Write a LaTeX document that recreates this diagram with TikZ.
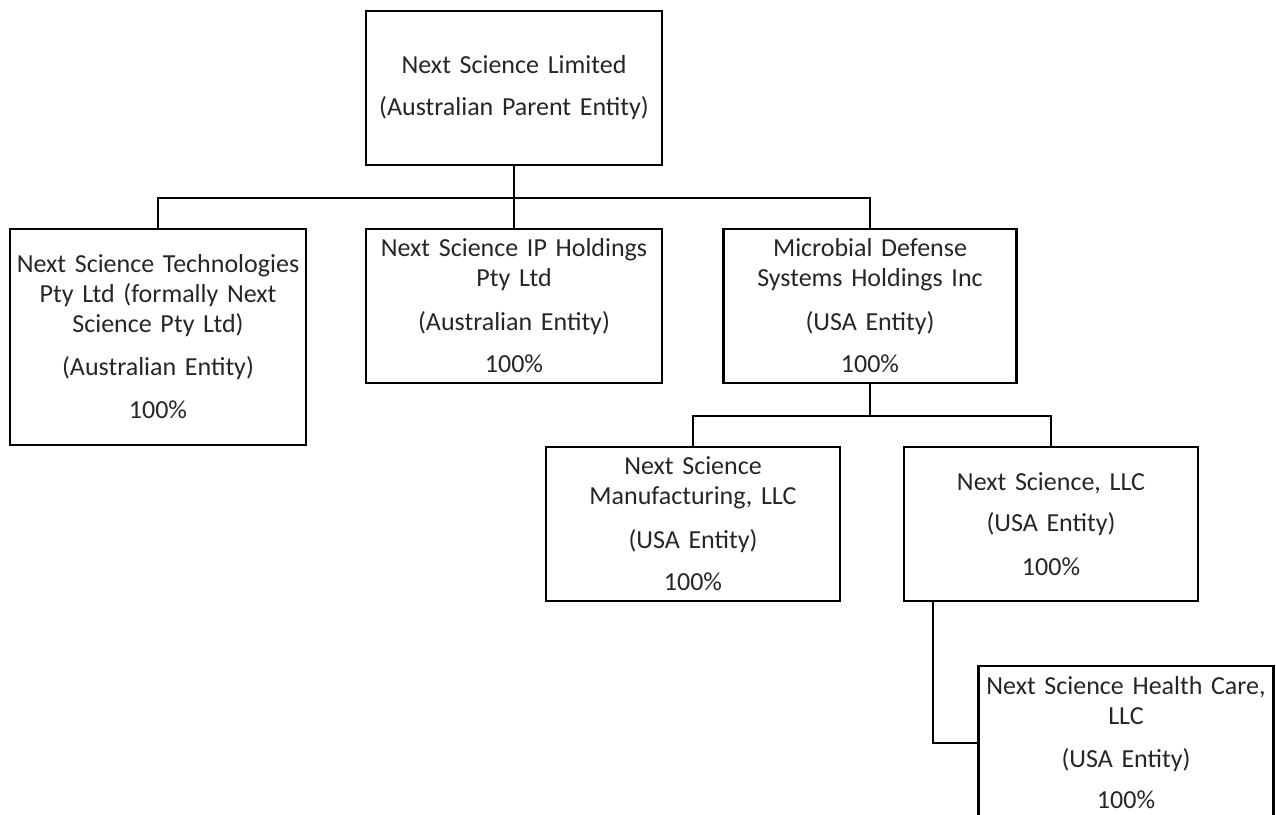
\documentclass[tikz,border=0pt]{standalone}
\usepackage{fontspec}
\setmainfont[WordSpace=0.75]{Carlito}
\usetikzlibrary{positioning, calc}

\begin{document}
\begin{tikzpicture}[
	x=1pt, y=-1pt,
	entity/.style={draw=black, line width=2.8pt, inner sep=0pt, align=center,
		minimum width=296pt, minimum height=154pt, text width=292pt,
		text=black!85, font=\fontsize{26}{30}\selectfont},
	link/.style={line width=2.8pt}
	]
		\useasboundingbox (0,0) rectangle (1276,814);

		\node[entity]			(parent)	at	(514,88)		{Next Science Limited\\[12pt] (Australian Parent Entity)};

		\node[entity, minimum height=216pt]	(tech)	at	(158,337)	{Next Science Technologies\\ Pty Ltd (formally Next\\ Science Pty Ltd)\\[13pt] (Australian Entity)\\[13pt] 100\%};
		\node[entity]			(ip)		at	(514,306)		{Next Science IP Holdings\\ Pty Ltd\\[14pt] (Australian Entity)\\[12pt] 100\%};
		\node[entity, minimum width=293pt]	(mdsh)	at	(870,306)	{Microbial Defense\\ Systems Holdings Inc\\[14pt] (USA Entity)\\[12pt] 100\%};

		\node[entity, minimum width=294pt]	(mfg)	at	(693,524)	{Next Science\\ Manufacturing, LLC\\[14pt] (USA Entity)\\[12pt] 100\%};
		\node[entity, minimum width=294pt]	(llc)	at	(1051,524)	{Next Science, LLC\\[11pt] (USA Entity)\\[14pt] 100\%};

		\node[entity, minimum width=295pt]	(health)	at	(1126,743)	{Next Science Health Care,\\ LLC\\[13pt] (USA Entity)\\[11pt] 100\%};

		\coordinate	(bus1)	at	(514,198);
		\coordinate	(bus2)	at	(870,416);
		\coordinate	(turn)	at	(933,743);

		\draw[link] (parent) -- (ip);
		\draw[link] (tech.north) |- (bus1) -| (mdsh.north);
		\draw[link] (mdsh.south) -- (bus2);
		\draw[link] (mfg.north) |- (bus2) -| (llc.north);
		\draw[link] (llc.south -| turn) -- (turn) -- (health.west);
	\end{tikzpicture}
\end{document}
